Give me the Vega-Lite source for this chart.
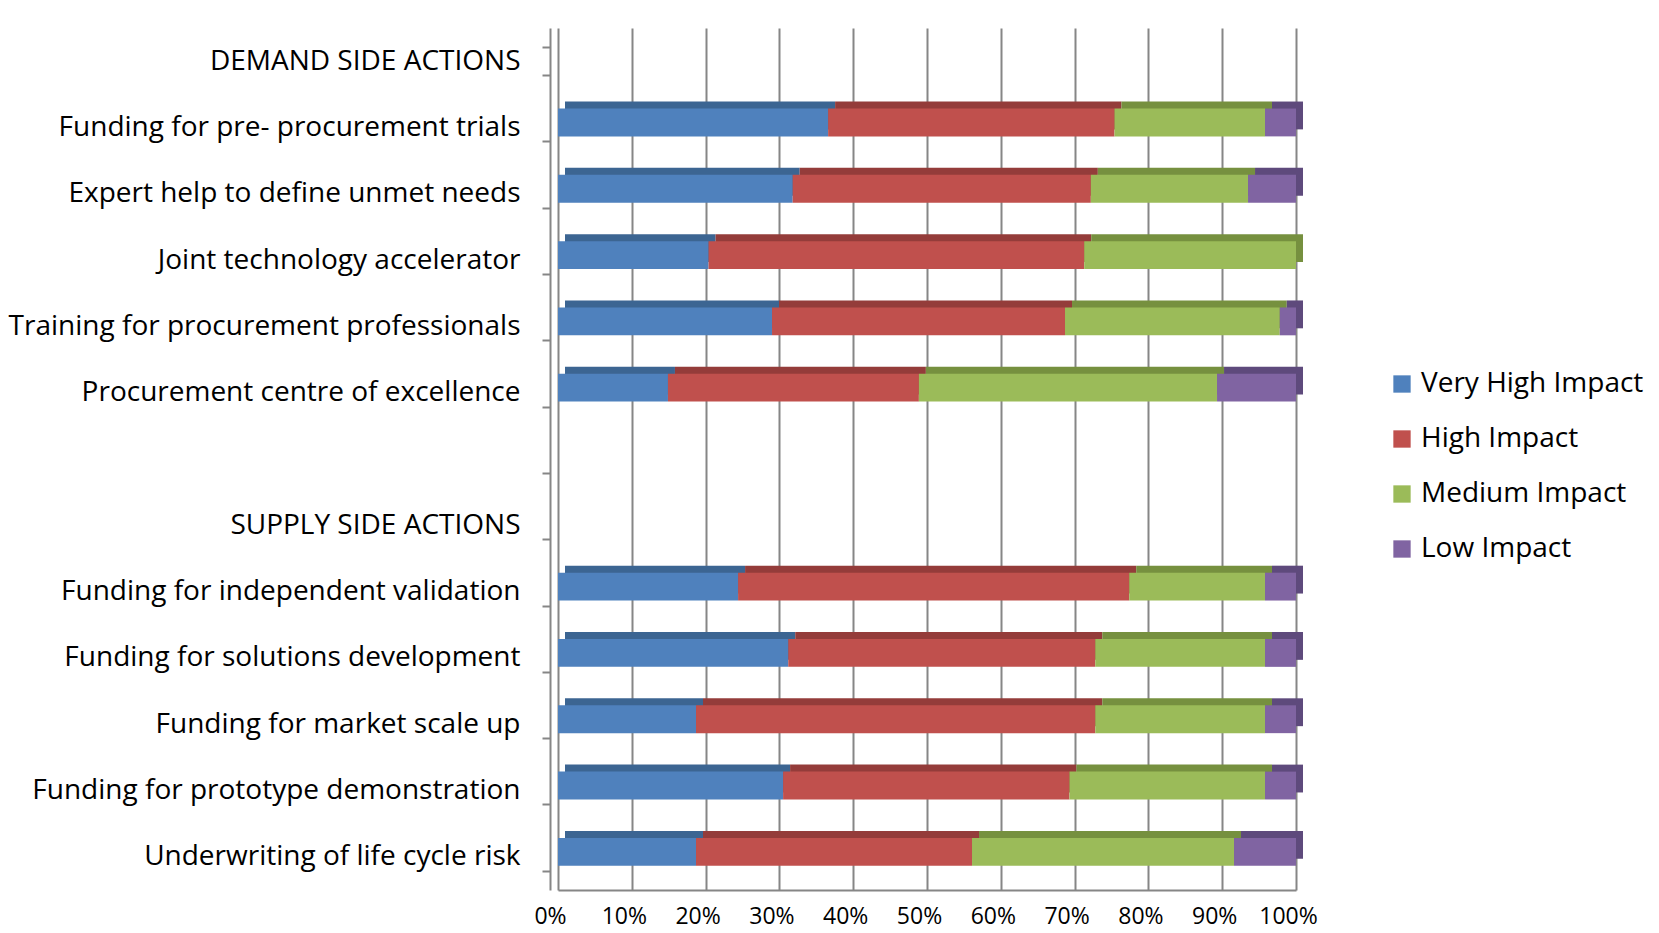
{
  "$schema": "https://vega.github.io/schema/vega-lite/v6.json",
  "width": 738,
  "height": 862,
  "autosize": {"type": "none"},
  "padding": {"left": 558, "top": 28, "right": 363, "bottom": 43},
  "background": "white",
  "data": {
    "values": [
      {"action": "Funding for pre- procurement trials", "impact": "Very High Impact", "k": 1, "pct": 36.6},
      {"action": "Funding for pre- procurement trials", "impact": "High Impact", "k": 2, "pct": 38.8},
      {"action": "Funding for pre- procurement trials", "impact": "Medium Impact", "k": 3, "pct": 20.4},
      {"action": "Funding for pre- procurement trials", "impact": "Low Impact", "k": 4, "pct": 4.2},
      {"action": "Expert help to define unmet needs", "impact": "Very High Impact", "k": 1, "pct": 31.8},
      {"action": "Expert help to define unmet needs", "impact": "High Impact", "k": 2, "pct": 40.4},
      {"action": "Expert help to define unmet needs", "impact": "Medium Impact", "k": 3, "pct": 21.3},
      {"action": "Expert help to define unmet needs", "impact": "Low Impact", "k": 4, "pct": 6.5},
      {"action": "Joint technology accelerator", "impact": "Very High Impact", "k": 1, "pct": 20.4},
      {"action": "Joint technology accelerator", "impact": "High Impact", "k": 2, "pct": 50.9},
      {"action": "Joint technology accelerator", "impact": "Medium Impact", "k": 3, "pct": 28.7},
      {"action": "Joint technology accelerator", "impact": "Low Impact", "k": 4, "pct": 0},
      {"action": "Training for procurement professionals", "impact": "Very High Impact", "k": 1, "pct": 29.0},
      {"action": "Training for procurement professionals", "impact": "High Impact", "k": 2, "pct": 39.7},
      {"action": "Training for procurement professionals", "impact": "Medium Impact", "k": 3, "pct": 29.1},
      {"action": "Training for procurement professionals", "impact": "Low Impact", "k": 4, "pct": 2.2},
      {"action": "Procurement centre of excellence", "impact": "Very High Impact", "k": 1, "pct": 14.9},
      {"action": "Procurement centre of excellence", "impact": "High Impact", "k": 2, "pct": 34.0},
      {"action": "Procurement centre of excellence", "impact": "Medium Impact", "k": 3, "pct": 40.4},
      {"action": "Procurement centre of excellence", "impact": "Low Impact", "k": 4, "pct": 10.7},
      {"action": "Funding for independent validation", "impact": "Very High Impact", "k": 1, "pct": 24.4},
      {"action": "Funding for independent validation", "impact": "High Impact", "k": 2, "pct": 53.0},
      {"action": "Funding for independent validation", "impact": "Medium Impact", "k": 3, "pct": 18.4},
      {"action": "Funding for independent validation", "impact": "Low Impact", "k": 4, "pct": 4.2},
      {"action": "Funding for solutions development", "impact": "Very High Impact", "k": 1, "pct": 31.2},
      {"action": "Funding for solutions development", "impact": "High Impact", "k": 2, "pct": 41.6},
      {"action": "Funding for solutions development", "impact": "Medium Impact", "k": 3, "pct": 23.0},
      {"action": "Funding for solutions development", "impact": "Low Impact", "k": 4, "pct": 4.2},
      {"action": "Funding for market scale up", "impact": "Very High Impact", "k": 1, "pct": 18.7},
      {"action": "Funding for market scale up", "impact": "High Impact", "k": 2, "pct": 54.1},
      {"action": "Funding for market scale up", "impact": "Medium Impact", "k": 3, "pct": 23.0},
      {"action": "Funding for market scale up", "impact": "Low Impact", "k": 4, "pct": 4.2},
      {"action": "Funding for prototype demonstration", "impact": "Very High Impact", "k": 1, "pct": 30.5},
      {"action": "Funding for prototype demonstration", "impact": "High Impact", "k": 2, "pct": 38.8},
      {"action": "Funding for prototype demonstration", "impact": "Medium Impact", "k": 3, "pct": 26.5},
      {"action": "Funding for prototype demonstration", "impact": "Low Impact", "k": 4, "pct": 4.2},
      {"action": "Underwriting of life cycle risk", "impact": "Very High Impact", "k": 1, "pct": 18.7},
      {"action": "Underwriting of life cycle risk", "impact": "High Impact", "k": 2, "pct": 37.4},
      {"action": "Underwriting of life cycle risk", "impact": "Medium Impact", "k": 3, "pct": 35.5},
      {"action": "Underwriting of life cycle risk", "impact": "Low Impact", "k": 4, "pct": 8.4}
    ]
  },
  "encoding": {
    "y": {
      "field": "action",
      "type": "nominal",
      "title": null,
      "scale": {
        "domain": ["DEMAND SIDE ACTIONS", "Funding for pre- procurement trials", "Expert help to define unmet needs", "Joint technology accelerator", "Training for procurement professionals", "Procurement centre of excellence", " ", "SUPPLY SIDE ACTIONS", "Funding for independent validation", "Funding for solutions development", "Funding for market scale up", "Funding for prototype demonstration", "Underwriting of life cycle risk"],
        "paddingInner": 0.58,
        "paddingOuter": 0.29
      },
      "axis": {
        "tickBand": "extent",
        "offset": 8,
        "domainColor": "#868686",
        "domainWidth": 2,
        "tickColor": "#868686",
        "tickWidth": 2,
        "tickSize": 8,
        "labelFont": "Open Sans",
        "labelFontSize": 28,
        "labelColor": "#000000",
        "labelPadding": 22,
        "labelLimit": 600,
        "grid": false
      }
    },
    "x": {
      "field": "pct",
      "type": "quantitative",
      "stack": "normalize",
      "title": null,
      "scale": {"domain": [0, 1]},
      "axis": {
        "format": ".0%",
        "values": [0, 0.1, 0.2, 0.3, 0.4, 0.5, 0.6, 0.7, 0.8, 0.9, 1],
        "grid": true,
        "gridColor": "#868686",
        "gridWidth": 2,
        "domainColor": "#868686",
        "domainWidth": 2,
        "ticks": false,
        "labelFont": "Open Sans",
        "labelFontSize": 23,
        "labelColor": "#000000",
        "labelPadding": 15,
        "labelOverlap": false,
        "labelFlush": false,
        "labelOffset": -8
      }
    },
    "order": {"field": "k", "type": "quantitative"}
  },
  "layer": [
    {
      "mark": {"type": "bar", "xOffset": 7, "yOffset": -12},
      "encoding": {
        "color": {
          "field": "impact",
          "type": "nominal",
          "scale": {
            "domain": ["Very High Impact", "High Impact", "Medium Impact", "Low Impact"],
            "range": ["#3C6592", "#943C3A", "#76903F", "#5E4A7C"]
          },
          "legend": null
        }
      }
    },
    {
      "mark": {"type": "bar", "yOffset": -5},
      "encoding": {
        "color": {
          "field": "impact",
          "type": "nominal",
          "scale": {
            "domain": ["Very High Impact", "High Impact", "Medium Impact", "Low Impact"],
            "range": ["#4F81BD", "#C0504D", "#9BBB59", "#8064A2"]
          },
          "legend": {
            "title": null,
            "orient": "none",
            "legendX": 830,
            "legendY": 342,
            "symbolType": "square",
            "symbolSize": 300,
            "symbolStrokeWidth": 0,
            "labelFont": "Open Sans",
            "labelFontSize": 28,
            "labelColor": "#000000",
            "labelOffset": 5,
            "rowPadding": 27,
            "labelLimit": 400
          }
        }
      }
    }
  ],
  "resolve": {"scale": {"color": "independent"}},
  "config": {"view": {"stroke": null}}
}
